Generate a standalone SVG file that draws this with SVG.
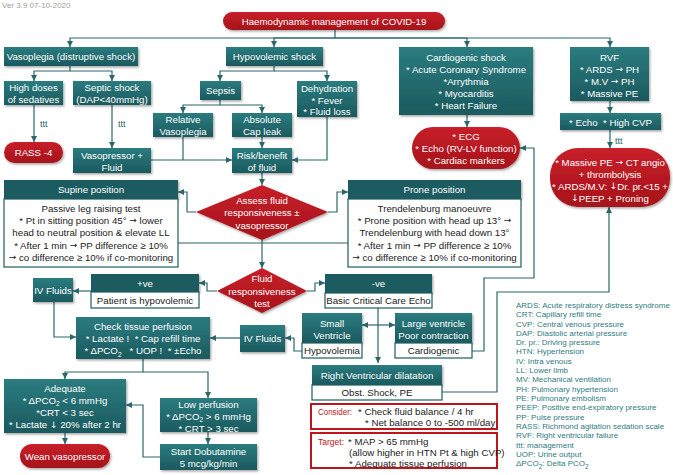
<svg xmlns="http://www.w3.org/2000/svg" width="673" height="475" viewBox="0 0 673 475">
<defs>
<linearGradient id="tg" x1="0" y1="0" x2="0" y2="1"><stop offset="0" stop-color="#2b7c7f"/><stop offset="1" stop-color="#1b5a5f"/></linearGradient>
<linearGradient id="rg" x1="0" y1="0" x2="0" y2="1"><stop offset="0" stop-color="#c8202a"/><stop offset="1" stop-color="#a5121a"/></linearGradient>
<filter id="sh" x="-10%" y="-10%" width="130%" height="140%"><feDropShadow dx="1.2" dy="1.5" stdDeviation="0.9" flood-color="#000" flood-opacity="0.35"/></filter>
<marker id="a" markerWidth="6" markerHeight="6" refX="6" refY="3" orient="auto" markerUnits="userSpaceOnUse"><path d="M0,0 L6,3 L0,6 z" fill="#2a676b"/></marker>
<style>
.n{fill:url(#tg);filter:url(#sh)}
.h{fill:#1e5c60;filter:url(#sh)}
.w{fill:#fff;stroke:#1e5c60;stroke-width:1.2}
.r{fill:url(#rg);filter:url(#sh)}
.b{fill:none;stroke:#c0141c;stroke-width:2}
text{font-family:"Liberation Sans",Arial,sans-serif;font-size:9.7px;dominant-baseline:central}
.t{fill:#fff;text-anchor:middle}
.d{fill:#222;text-anchor:middle}
.k{fill:#222}
.rt{fill:#c0141c}
.lg{fill:#2f7b82;font-size:8px}
.v{fill:#a0a0a0;font-size:8px}
.tt{fill:#2a676b;font-size:9px}
.c{fill:none;stroke:#2a676b;stroke-width:1.2}
.sub{font-size:6.5px;baseline-shift:sub}
.ar{font-family:"DejaVu Sans",sans-serif;font-size:9px}
</style>
</defs>
<rect width="673" height="475" fill="#fff"/>
<text class="v" x="2" y="5">Ver 3.9 07-10-2020</text>

<g id="connectors">
<path class="c" d="M335 30 V38 H70 V47" marker-end="url(#a)"/>
<path class="c" d="M335 38 H274 V47" marker-end="url(#a)"/>
<path class="c" d="M335 38 H467 V47" marker-end="url(#a)"/>
<path class="c" d="M335 38 H610 V47" marker-end="url(#a)"/>
<path class="c" d="M70 66 V71 H34 V81" marker-end="url(#a)"/>
<path class="c" d="M70 71 H112 V81" marker-end="url(#a)"/>
<path class="c" d="M34 105 V142" marker-end="url(#a)"/>
<path class="c" d="M112 105 V148" marker-end="url(#a)"/>
<path class="c" d="M274 66 V71 H220 V81" marker-end="url(#a)"/>
<path class="c" d="M274 71 H327 V81" marker-end="url(#a)"/>
<path class="c" d="M220 100 V105 H183 V113" marker-end="url(#a)"/>
<path class="c" d="M220 105 H262 V113" marker-end="url(#a)"/>
<path class="c" d="M262 137 V148" marker-end="url(#a)"/>
<path class="c" d="M151 160 H232" marker-end="url(#a)"/>
<path class="c" d="M183 137 V160"/>
<path class="c" d="M327 117 V160 H292" marker-end="url(#a)"/>
<path class="c" d="M467 115 V127" marker-end="url(#a)"/>
<path class="c" d="M610 101 V113" marker-end="url(#a)"/>
<path class="c" d="M610 130 V148" marker-end="url(#a)"/>
<path class="c" d="M262 173 V185" marker-end="url(#a)"/>
<path class="c" d="M196 212 H187 V192 H178" marker-end="url(#a)"/>
<path class="c" d="M328 212 H337 V192 H348" marker-end="url(#a)"/>
<path class="c" d="M178 243 H348"/>
<path class="c" d="M262 240 V268" marker-end="url(#a)"/>
<path class="c" d="M217 291 H207 V283 H199" marker-end="url(#a)"/>
<path class="c" d="M307 291 H315 V283 H325" marker-end="url(#a)"/>
<path class="c" d="M91 291 H73" marker-end="url(#a)"/>
<path class="c" d="M54 302 V337 H76" marker-end="url(#a)"/>
<path class="c" d="M378 308 V363" marker-end="url(#a)"/>
<path class="c" d="M378 325 H362" marker-end="url(#a)"/>
<path class="c" d="M378 325 H395" marker-end="url(#a)"/>
<path class="c" d="M302 351 H294 V338 H285" marker-end="url(#a)"/>
<path class="c" d="M240 338 H210" marker-end="url(#a)"/>
<path class="c" d="M143 359 V372 H65 V379" marker-end="url(#a)"/>
<path class="c" d="M143 372 H208 V398" marker-end="url(#a)"/>
<path class="c" d="M65 433 V444" marker-end="url(#a)"/>
<path class="c" d="M208 432 V444" marker-end="url(#a)"/>
<path class="c" d="M160 457 H143 V405 H126" marker-end="url(#a)"/>
<path class="c" d="M472 351 H484 V278 H534 V148 H520" marker-end="url(#a)"/>
<path class="c" d="M442 392 H497 V292 H609 V207" marker-end="url(#a)"/>
<text class="tt" x="40" y="124">ttt</text>
<text class="tt" x="118" y="124">ttt</text>
<text class="tt" x="615" y="141">ttt</text>
</g>

<g id="title"><rect class="r" x="223" y="12" width="222" height="18" rx="9"/><text class="t" x="334" y="21">Haemodynamic management of COVID-19</text></g>

<g id="vasoplegia"><rect class="n" x="4" y="47" width="134" height="19"/><text class="t" x="71" y="56.5">Vasoplegia (distruptive shock)</text></g>
<g id="sedatives"><rect class="n" x="4" y="81" width="59" height="24"/><text class="t" x="33.5" y="87.5">High doses</text><text class="t" x="33.5" y="99">of sedatives</text></g>
<g id="septic"><rect class="n" x="73" y="81" width="78" height="24"/><text class="t" x="112" y="87.5">Septic shock</text><text class="t" x="112" y="99">(DAP&lt;40mmHg)</text></g>
<g id="rass"><rect class="r" x="4" y="142" width="59" height="21" rx="10.5"/><text class="t" x="33.5" y="152.5">RASS -4</text></g>
<g id="vasopressor"><rect class="n" x="73" y="148" width="78" height="25"/><text class="t" x="112" y="155">Vasopressor +</text><text class="t" x="112" y="167">Fluid</text></g>

<g id="hypovolemic"><rect class="n" x="226" y="47" width="97" height="19"/><text class="t" x="274.5" y="56.5">Hypovolemic shock</text></g>
<g id="sepsis"><rect class="n" x="200" y="81" width="41" height="19"/><text class="t" x="220.5" y="90.5">Sepsis</text></g>
<g id="dehydration"><rect class="n" x="297" y="81" width="60" height="36"/><text class="t" x="327" y="88">Dehydration</text><text class="t" x="327" y="100">* Fever</text><text class="t" x="327" y="111.5">* Fluid loss</text></g>
<g id="relative"><rect class="n" x="153" y="113" width="60" height="24"/><text class="t" x="183" y="119.5">Relative</text><text class="t" x="183" y="131">Vasoplegia</text></g>
<g id="absolute"><rect class="n" x="232" y="113" width="60" height="24"/><text class="t" x="262" y="119.5">Absolute</text><text class="t" x="262" y="131">Cap leak</text></g>
<g id="risk"><rect class="n" x="232" y="148" width="60" height="25"/><text class="t" x="262" y="155">Risk/benefit</text><text class="t" x="262" y="167">of fluid</text></g>

<g id="cardiogenic"><rect class="n" x="399" y="47" width="134" height="68"/><text class="t" x="466" y="57">Cardiogenic shock</text><text class="t" x="466" y="69">* Acute Coronary Syndrome</text><text class="t" x="466" y="81">*Arrythmia</text><text class="t" x="466" y="93">* Myocarditis</text><text class="t" x="466" y="105.5">* Heart Failure</text></g>
<g id="ecg"><rect class="r" x="412" y="127" width="108" height="42" rx="21"/><text class="t" x="466" y="136">* ECG</text><text class="t" x="466" y="148">* Echo (RV-LV function)</text><text class="t" x="466" y="160.5">* Cardiac markers</text></g>

<g id="rvf"><rect class="n" x="570" y="47" width="79" height="54"/><text class="t" x="609.5" y="57">RVF</text><text class="t" x="609.5" y="69">* ARDS <tspan class="ar">→</tspan> PH</text><text class="t" x="609.5" y="81">* M.V <tspan class="ar">→</tspan> PH</text><text class="t" x="609.5" y="93">* Massive PE</text></g>
<g id="echo"><rect class="n" x="560" y="113" width="101" height="17"/><text class="t" x="610.5" y="122" xml:space="preserve">* Echo  * High CVP</text></g>
<g id="rvf-mgmt"><rect class="r" x="550" y="148" width="120" height="59" rx="28"/><text class="t" x="610" y="162">* Massive PE <tspan class="ar">→</tspan> CT angio</text><text class="t" x="610" y="174">+ thrombolysis</text><text class="t" x="610" y="186">* ARDS/M.V: <tspan class="ar">↓</tspan>Dr. pr.&lt;15 +</text><text class="t" x="610" y="198"><tspan class="ar">↓</tspan>PEEP + Proning</text></g>

<g id="assess"><polygon class="r" points="262,185 328,212 262,240 196,212"/><text class="t" x="262" y="200">Assess fluid</text><text class="t" x="262" y="212">responsiveness ±</text><text class="t" x="262" y="225">vasopressor</text></g>

<g id="supine"><rect class="h" x="4" y="180" width="174" height="19"/><rect class="w" x="4" y="199" width="174" height="68"/><text class="t" x="91" y="189.5">Supine position</text>
<text class="d" x="91" y="208">Passive leg raising test</text><text class="d" x="91" y="220">* Pt in sitting position 45° <tspan class="ar">→</tspan> lower</text><text class="d" x="91" y="232">head to neutral position &amp; elevate LL</text><text class="d" x="91" y="245">* After 1 min <tspan class="ar">→</tspan> PP difference ≥ 10%</text><text class="d" x="91" y="257"><tspan class="ar">→</tspan> co difference ≥ 10% if co-monitoring</text></g>

<g id="prone"><rect class="h" x="348" y="180" width="173" height="19"/><rect class="w" x="348" y="199" width="173" height="68"/><text class="t" x="434.5" y="189.5">Prone position</text>
<text class="d" x="434.5" y="208">Trendelenburg manoeuvre</text><text class="d" x="434.5" y="220">* Prone position with head up 13° <tspan class="ar">→</tspan></text><text class="d" x="434.5" y="232">Trendelenburg with head down 13°</text><text class="d" x="434.5" y="245">* After 1 min <tspan class="ar">→</tspan> PP difference ≥ 10%</text><text class="d" x="434.5" y="257"><tspan class="ar">→</tspan> co difference ≥ 10% if co-monitoring</text></g>

<g id="fluid-test"><polygon class="r" points="262,268 307,291 262,313 217,291"/><text class="t" x="262" y="278.5">Fluid</text><text class="t" x="262" y="291">responsiveness</text><text class="t" x="262" y="303">test</text></g>

<g id="positive"><rect class="h" x="91" y="274" width="108" height="18"/><rect class="w" x="91" y="292" width="108" height="16"/><text class="t" x="145" y="283">+ve</text><text class="d" x="145" y="300">Patient is hypovolemic</text></g>
<g id="negative"><rect class="h" x="325" y="274" width="107" height="19"/><rect class="w" x="325" y="293" width="107" height="15"/><text class="t" x="378.5" y="283.5">-ve</text><text class="d" x="378.5" y="300.5">Basic Critical Care Echo</text></g>

<g id="iv-fluids-1"><rect class="n" x="33" y="278" width="40" height="24"/><text class="t" x="53" y="290.5">IV Fluids</text></g>

<g id="small-ventricle"><rect class="n" x="302" y="313" width="60" height="30"/><rect class="w" x="302" y="343" width="60" height="15"/><text class="t" x="332" y="323">Small</text><text class="t" x="332" y="335">Ventricle</text><text class="d" x="332" y="350.5">Hypovolemia</text></g>
<g id="large-ventricle"><rect class="n" x="395" y="313" width="77" height="30"/><rect class="w" x="395" y="343" width="77" height="15"/><text class="t" x="433.5" y="323">Large ventricle</text><text class="t" x="433.5" y="335">Poor contraction</text><text class="d" x="433.5" y="350.5">Cardiogenic</text></g>

<g id="iv-fluids-2"><rect class="n" x="240" y="325" width="45" height="27"/><text class="t" x="262.5" y="338">IV Fluids</text></g>

<g id="check-perfusion"><rect class="n" x="76" y="317" width="134" height="42"/><text class="t" x="143" y="326">Check tissue perfusion</text><text class="t" x="143" y="338" xml:space="preserve">* Lactate !  * Cap refill time</text><text class="t" x="143" y="350.5" xml:space="preserve">* ΔPCO<tspan class="sub">2</tspan>   * UOP !  * ±Echo</text></g>

<g id="adequate"><rect class="n" x="4" y="379" width="122" height="54"/><text class="t" x="65" y="388">Adequate</text><text class="t" x="65" y="400">* ΔPCO<tspan class="sub">2</tspan> &lt; 6 mmHg</text><text class="t" x="65" y="412">*CRT &lt; 3 sec</text><text class="t" x="65" y="424.5">* Lactate <tspan class="ar">↓</tspan> 20% after 2 hr</text></g>
<g id="wean"><rect class="r" x="20" y="444" width="90" height="24" rx="12"/><text class="t" x="65" y="456">Wean vasopressor</text></g>

<g id="low-perfusion"><rect class="n" x="160" y="398" width="97" height="34"/><text class="t" x="208.5" y="404">Low perfusion</text><text class="t" x="208.5" y="416">* ΔPCO<tspan class="sub">2</tspan> &gt; 6 mmHg</text><text class="t" x="208.5" y="428">* CRT &gt; 3 sec</text></g>
<g id="dobutamine"><rect class="n" x="160" y="444" width="97" height="26"/><text class="t" x="208.5" y="451">Start Dobutamine</text><text class="t" x="208.5" y="463">5 mcg/kg/min</text></g>

<g id="rv-dilatation"><rect class="n" x="312" y="365" width="130" height="20"/><rect class="w" x="312" y="385" width="130" height="15"/><text class="t" x="377" y="375">Right Ventricular dilatation</text><text class="d" x="377" y="392">Obst. Shock, PE</text></g>

<g id="consider"><rect class="b" x="311" y="404" width="186" height="25"/><text class="rt" x="318" y="411.5" textLength="34" lengthAdjust="spacingAndGlyphs">Consider:</text><text class="k" x="358" y="411.5">* Check fluid balance / 4 hr</text><text class="k" x="365" y="422.5">* Net balance 0 to -500 ml/day</text></g>
<g id="target"><rect class="b" x="311" y="433" width="186" height="35"/><text class="rt" x="318" y="441" textLength="26" lengthAdjust="spacingAndGlyphs">Target:</text><text class="k" x="348" y="441">* MAP &gt; 65 mmHg</text><text class="k" x="349" y="452">(allow higher in HTN Pt &amp; high CVP)</text><text class="k" x="349" y="463">* Adequate tissue perfusion</text></g>

<g id="legend">
<text class="lg" x="516" y="305">ARDS: Acute respiratory distress syndrome</text>
<text class="lg" x="516" y="314.5">CRT: Capillary refill time</text>
<text class="lg" x="516" y="324">CVP: Central venous pressure</text>
<text class="lg" x="516" y="333">DAP: Diastolic arterial pressure</text>
<text class="lg" x="516" y="342">Dr. pr.: Driving pressure</text>
<text class="lg" x="516" y="351.5">HTN: Hypertension</text>
<text class="lg" x="516" y="361">IV: Intra venous</text>
<text class="lg" x="516" y="370">LL: Lower limb</text>
<text class="lg" x="516" y="379.5">MV: Mechanical ventilation</text>
<text class="lg" x="516" y="389">PH: Pulmonary hypertension</text>
<text class="lg" x="516" y="398">PE: Pulmonary embolism</text>
<text class="lg" x="516" y="407.5">PEEP: Positive end-expiratory pressure</text>
<text class="lg" x="516" y="417">PP: Pulse pressure</text>
<text class="lg" x="516" y="426">RASS: Richmond agitation sedation scale</text>
<text class="lg" x="516" y="435.5">RVF: Right ventricular failure</text>
<text class="lg" x="516" y="445">ttt: management</text>
<text class="lg" x="516" y="454">UOP: Urine output</text>
<text class="lg" x="516" y="463">ΔPCO<tspan class="sub">2</tspan>: Delta PCO<tspan class="sub">2</tspan></text>
</g>
</svg>
